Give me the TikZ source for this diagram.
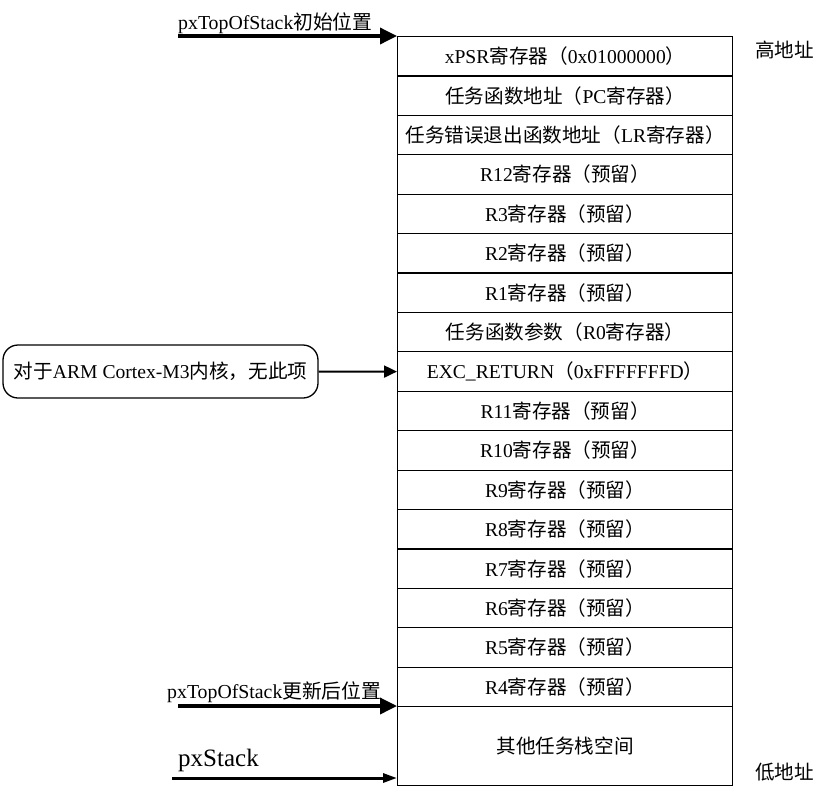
\documentclass[tikz,border=0pt]{standalone}
\usepackage{fontspec}
\setmainfont{Liberation Serif}
\newfontfamily\cjk{Noto Sans CJK SC}
\usetikzlibrary{arrows.meta}
\newcommand\zh[1]{{\cjk #1}}
\begin{document}
\begin{tikzpicture}[x=1pt,y=-1pt,
  cell/.style={draw,line width=1.2pt,minimum width=335pt,minimum height=39.4pt,inner sep=0pt,anchor=north west,font=\fontsize{19.6}{21}\selectfont},
  lbl/.style={inner sep=0pt,font=\fontsize{19.6}{21}\selectfont},
  bigarrow/.style={line width=3.5pt,-{Triangle[length=17pt,width=16pt]}},
  midarrow/.style={line width=2pt,-{Triangle[length=13pt,width=12pt]}},
  thinarrow/.style={line width=3pt,-{Triangle[length=14pt,width=9pt]}}]
\useasboundingbox (0,0) rectangle (816,788);
\fill[white] (0,0) rectangle (816,788);
\def\rh{39.41}
\foreach \i/\t in {0/{xPSR\zh{寄存器（}0x01000000\zh{）}},
  1/{\zh{任务函数地址（}PC\zh{寄存器）}},
  2/{\zh{任务错误退出函数地址（}LR\zh{寄存器）}},
  3/{R12\zh{寄存器（预留）}},
  4/{R3\zh{寄存器（预留）}},
  5/{R2\zh{寄存器（预留）}},
  6/{R1\zh{寄存器（预留）}},
  7/{\zh{任务函数参数（}R0\zh{寄存器）}},
  8/{EXC\_RETURN\zh{（}0xFFFFFFFD\zh{）}},
  9/{R11\zh{寄存器（预留）}},
  10/{R10\zh{寄存器（预留）}},
  11/{R9\zh{寄存器（预留）}},
  12/{R8\zh{寄存器（预留）}},
  13/{R7\zh{寄存器（预留）}},
  14/{R6\zh{寄存器（预留）}},
  15/{R5\zh{寄存器（预留）}},
  16/{R4\zh{寄存器（预留）}}}
{\node[cell] (r\i) at (397,{36+\i*\rh}) {\t};}
\node[cell,minimum height=79pt] (r17) at (397,706) {\zh{其他任务栈空间}};
\node[lbl,anchor=west] (hi) at (755,50) {\zh{高地址}};
\node[lbl,anchor=west] (lo) at (755,772) {\zh{低地址}};
% top arrow
\coordinate (a1) at (178,36);
\draw[bigarrow] (a1) -- (r0.north west);
\node[lbl,anchor=base west,font=\fontsize{19.8}{21}\selectfont] (t1) at (178,29) {pxTopOfStack\zh{初始位置}};
% middle
\node[draw,line width=1.3pt,rounded corners=15pt,minimum width=315pt,minimum height=53pt,inner sep=0pt,font=\fontsize{19.6}{21}\selectfont] (note) at (160.5,371.5) {\zh{对于}ARM Cortex-M3\zh{内核，无此项}};
\draw[midarrow] (note.east) -- (r8.west);
% bottom arrows
\coordinate (a2) at (178,706);
\draw[bigarrow] (a2) -- (r17.north west);
\node[lbl,anchor=base west,font=\fontsize{19.8}{21}\selectfont] (t2) at (167,698) {pxTopOfStack\zh{更新后位置}};
\coordinate (a3) at (172,778);
\draw[thinarrow] (a3) -- (397,778);
\node[lbl,anchor=base west,font=\fontsize{25}{27}\selectfont] (t3) at (178,766) {pxStack};
\end{tikzpicture}
\end{document}
